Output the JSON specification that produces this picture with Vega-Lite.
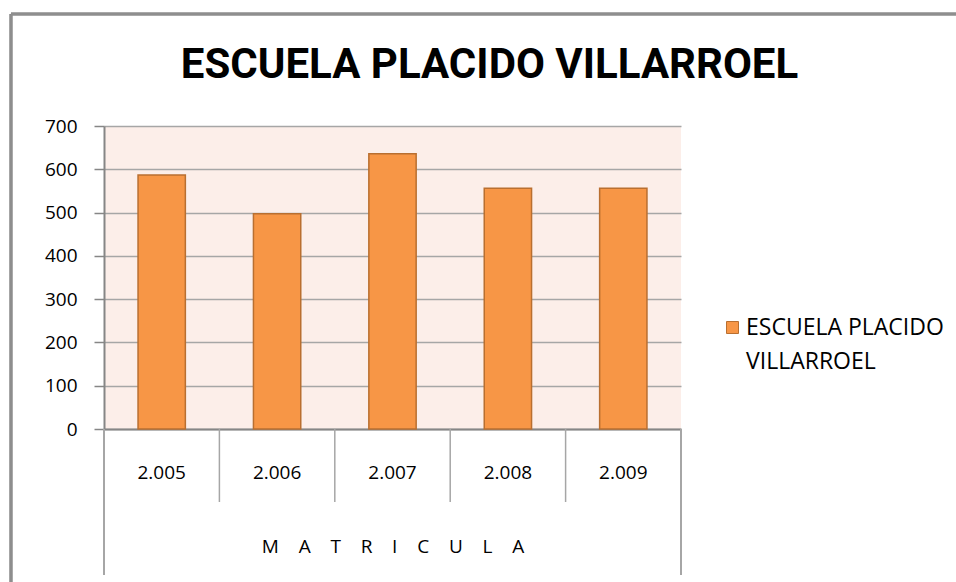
{
  "$schema": "https://vega.github.io/schema/vega-lite/v6.json",
  "autosize": {"type": "none"},
  "width": 577,
  "height": 303,
  "padding": {"left": 104, "top": 126, "right": 275, "bottom": 153},
  "background": "white",
  "config": {
    "view": {"fill": "#FCEEE9", "stroke": null},
    "font": "Open Sans"
  },
  "title": {
    "text": "ESCUELA PLACIDO VILLARROEL",
    "font": "Roboto",
    "fontSize": 42,
    "fontWeight": "bold",
    "color": "#000000",
    "anchor": "middle",
    "frame": "group",
    "baseline": "alphabetic",
    "offset": 39,
    "dx": 97,
    "dy": 146
  },
  "data": {
    "values": [
      {"anio": "2.005", "valor": 587, "serie": "ESCUELA PLACIDO VILLARROEL"},
      {"anio": "2.006", "valor": 497, "serie": "ESCUELA PLACIDO VILLARROEL"},
      {"anio": "2.007", "valor": 636, "serie": "ESCUELA PLACIDO VILLARROEL"},
      {"anio": "2.008", "valor": 556, "serie": "ESCUELA PLACIDO VILLARROEL"},
      {"anio": "2.009", "valor": 556, "serie": "ESCUELA PLACIDO VILLARROEL"}
    ]
  },
  "layer": [
    {
      "mark": {"type": "bar", "width": {"band": 0.41}, "stroke": "#B96F30", "strokeWidth": 1.5},
      "encoding": {
        "x": {
          "field": "anio", "type": "nominal", "sort": null,
          "scale": {"paddingInner": 0, "paddingOuter": 0},
          "axis": {
            "title": "M\u00a0\u00a0\u00a0\u00a0A\u00a0\u00a0\u00a0\u00a0T\u00a0\u00a0\u00a0\u00a0R\u00a0\u00a0\u00a0\u00a0I\u00a0\u00a0\u00a0\u00a0C\u00a0\u00a0\u00a0\u00a0U\u00a0\u00a0\u00a0\u00a0L\u00a0\u00a0\u00a0\u00a0A",
            "titleFont": "Open Sans", "titleFontSize": 19, "titleFontWeight": "normal", "titleColor": "#000000",
            "titleY": 117, "titleBaseline": "middle",
            "labelAngle": 0, "labelFontSize": 19, "labelColor": "#000000", "labelBaseline": "middle",
            "labelPadding": 43, "ticks": false, "tickSize": 0,
            "domainColor": "#868686", "domainWidth": 2, "grid": false
          }
        },
        "y": {
          "field": "valor", "type": "quantitative",
          "scale": {"domain": [0, 700], "nice": false},
          "axis": {
            "title": null, "values": [0, 100, 200, 300, 400, 500, 600, 700],
            "labelFontSize": 19, "labelColor": "#000000", "labelPadding": 17,
            "tickSize": 10, "tickColor": "#868686", "tickWidth": 1.5,
            "domainColor": "#868686", "domainWidth": 2,
            "grid": true, "gridColor": "#A6A6A6", "gridWidth": 1.5
          }
        },
        "color": {
          "field": "serie", "type": "nominal",
          "scale": {"range": ["#F79646"]},
          "legend": {
            "title": null, "orient": "none", "legendX": 617, "legendY": 190,
            "symbolType": "square", "symbolSize": 144, "symbolStrokeColor": "#B96F30", "symbolStrokeWidth": 1,
            "labelFontSize": 23, "labelColor": "#000000", "labelLimit": 400,
            "labelExpr": "['ESCUELA PLACIDO', 'VILLARROEL']",
            "labelBaseline": "top", "labelOffset": 2,
            "encode": {"labels": {"update": {"lineHeight": {"value": 34}, "dy": {"value": -11}}}}
          }
        }
      }
    },
    {
      "mark": {"type": "rule", "color": "#A6A6A6", "strokeWidth": 1.5},
      "transform": [{"filter": "datum.anio != '2.005'"}],
      "encoding": {
        "x": {"field": "anio", "type": "nominal", "sort": null, "bandPosition": 0},
        "y": {"datum": 0},
        "y2": {"datum": -168.6}
      }
    },
    {
      "mark": {"type": "rule", "color": "#A6A6A6", "strokeWidth": 2},
      "encoding": {
        "x": {"datum": "2.005", "bandPosition": 0},
        "y": {"datum": 0},
        "y2": {"datum": -337}
      }
    },
    {
      "mark": {"type": "rule", "color": "#A6A6A6", "strokeWidth": 2},
      "encoding": {
        "x": {"datum": "2.009", "bandPosition": 1},
        "y": {"datum": 0},
        "y2": {"datum": -337}
      }
    },
    {
      "mark": {"type": "rule", "color": "#8E8E8E", "strokeWidth": 2.5},
      "encoding": {
        "x": {"datum": "2.005", "bandPosition": -0.806},
        "y": {"datum": 958.7},
        "y2": {"datum": -420}
      }
    },
    {
      "mark": {"type": "rule", "color": "#8E8E8E", "strokeWidth": 2.5},
      "encoding": {
        "x": {"datum": "2.005", "bandPosition": -0.806},
        "x2": {"datum": "2.009", "bandPosition": 3.5},
        "y": {"datum": 958.7}
      }
    }
  ]
}
